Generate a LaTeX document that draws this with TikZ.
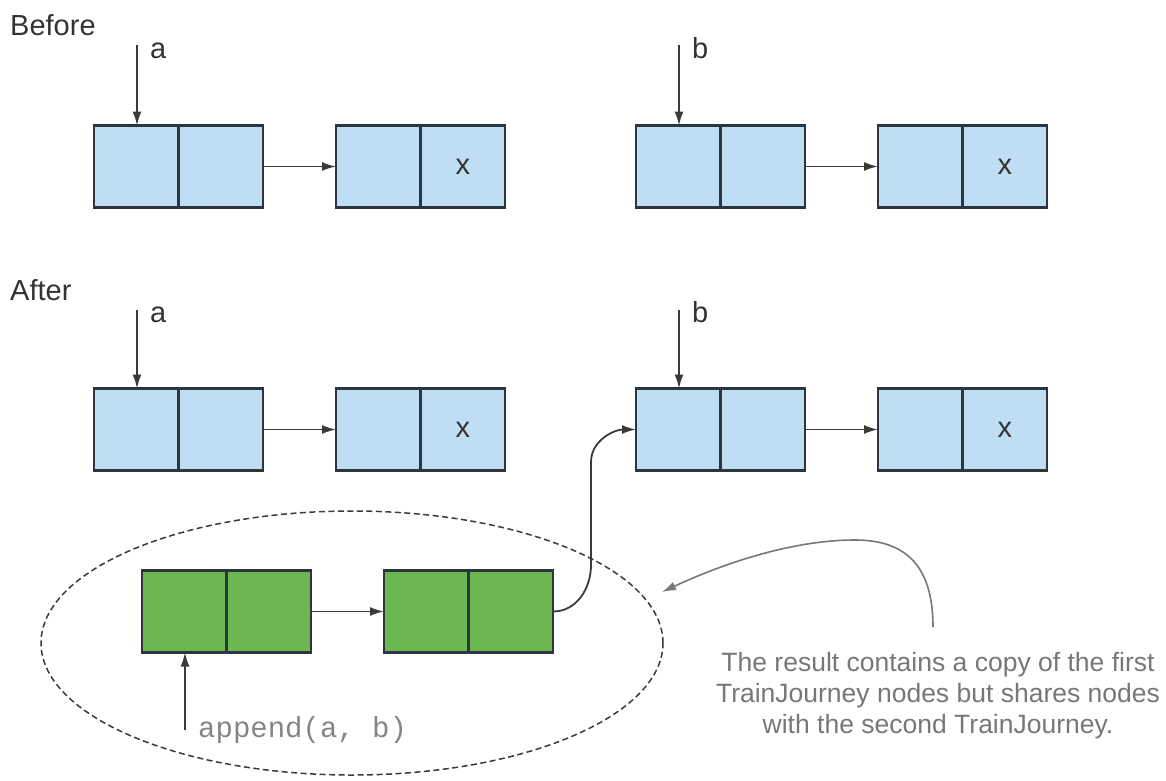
\documentclass[tikz,border=0pt]{standalone}
\usepackage{fontspec}
\setmainfont{Liberation Sans}
\setmonofont{Liberation Mono}
\usetikzlibrary{arrows.meta,shapes.geometric}
\definecolor{cellblue}{HTML}{BFDDF3}
\definecolor{cellgreen}{HTML}{6CB750}
\definecolor{edge}{HTML}{2C3640}
\definecolor{arr}{HTML}{3A3A3A}
\definecolor{note}{HTML}{777777}
\tikzset{
  cell/.style={draw=edge, line width=2.2pt, minimum width=84.5pt, minimum height=82pt, inner sep=0pt, outer sep=0pt},
  bluecell/.style={cell, fill=cellblue},
  greencell/.style={cell, fill=cellgreen},
  link/.style={draw=arr, line width=1.8pt, -{Latex[length=14pt,width=9pt]}},
  lbl/.style={inner sep=0pt, text=black!80, font=\fontsize{29}{34}\selectfont},
}
\begin{document}
\begin{tikzpicture}[x=1pt,y=1pt]
\useasboundingbox (0,0) rectangle (1166,-780);
% headings
\node[lbl, anchor=base west] (before) at (10,-35) {Before};
\node[lbl, anchor=base west] (after) at (10,-300) {After};
% Row 1
\node[bluecell] (r1a1) at (136.25,-166.5) {};
\node[bluecell, anchor=west] (r1a2) at (r1a1.east) {};
\node[bluecell] (r1b1) at (378.25,-166.5) {};
\node[bluecell, anchor=west, lbl, minimum width=84.5pt, minimum height=82pt, draw=edge, line width=2.2pt] (r1b2) at (r1b1.east) {x};
\node[bluecell] (r1c1) at (678.25,-166.5) {};
\node[bluecell, anchor=west] (r1c2) at (r1c1.east) {};
\node[bluecell] (r1d1) at (920.25,-166.5) {};
\node[bluecell, anchor=west, lbl, minimum width=84.5pt, minimum height=82pt, draw=edge, line width=2.2pt] (r1d2) at (r1d1.east) {x};
\draw[link] (r1a2.east) -- (r1b1.west);
\draw[link] (r1c2.east) -- (r1d1.west);
\coordinate (pa1) at (137,-45);
\coordinate (pb1) at (679,-45);
\draw[link] (pa1) -- (pa1 |- r1a1.north);
\draw[link] (pb1) -- (pb1 |- r1c1.north);
\node[lbl, anchor=base west] (la1) at (150,-58) {a};
\node[lbl, anchor=base west] (lb1) at (692,-58) {b};
% Row 2
\node[bluecell] (r2a1) at (136.25,-429.5) {};
\node[bluecell, anchor=west] (r2a2) at (r2a1.east) {};
\node[bluecell] (r2b1) at (378.25,-429.5) {};
\node[bluecell, anchor=west, lbl, minimum width=84.5pt, minimum height=82pt, draw=edge, line width=2.2pt] (r2b2) at (r2b1.east) {x};
\node[bluecell] (r2c1) at (678.25,-429.5) {};
\node[bluecell, anchor=west] (r2c2) at (r2c1.east) {};
\node[bluecell] (r2d1) at (920.25,-429.5) {};
\node[bluecell, anchor=west, lbl, minimum width=84.5pt, minimum height=82pt, draw=edge, line width=2.2pt] (r2d2) at (r2d1.east) {x};
\draw[link] (r2a2.east) -- (r2b1.west);
\draw[link] (r2c2.east) -- (r2d1.west);
\coordinate (pa2) at (137,-310);
\coordinate (pb2) at (679,-310);
\draw[link] (pa2) -- (pa2 |- r2a1.north);
\draw[link] (pb2) -- (pb2 |- r2c1.north);
\node[lbl, anchor=base west] (la2) at (150,-322) {a};
\node[lbl, anchor=base west] (lb2) at (692,-322) {b};
% dashed ellipse
\node[draw=arr, dash pattern=on 6pt off 3.5pt, line width=1.5pt, ellipse, minimum width=622pt, minimum height=264pt, inner sep=0pt] (result) at (352,-643) {};
% green row
\node[greencell] (g1) at (184.25,-611.5) {};
\node[greencell, anchor=west] (g2) at (g1.east) {};
\node[greencell] (g3) at (426.25,-611.5) {};
\node[greencell, anchor=west] (g4) at (g3.east) {};
\draw[link] (g2.east) -- (g3.west);
\draw[link] (g4.east) to[out=0,in=-90] (591,-565) -- (591,-462) to[out=90,in=180] (r2c1.west);
\coordinate (pap) at (185,-730);
\draw[link] (pap) -- (pap |- g1.south);
\node[inner sep=0pt, anchor=base west, text=note!90, font=\ttfamily\fontsize{29}{34}\selectfont] (app) at (198,-737) {append(a, b)};
% annotation
\node[inner sep=0pt, anchor=base, align=center, text=note, font=\fontsize{26.5}{31}\selectfont] (ann) at (938,-733) {The result contains a copy of the first\\TrainJourney nodes but shares nodes\\with the second TrainJourney.};
\coordinate (annstart) at (933,-627);
\coordinate (anntip) at (662,-592);
\draw[draw=note, line width=1.6pt, -{Latex[length=14pt,width=9pt]}] (annstart) .. controls (933,-565) and (905,-540) .. (855,-540) .. controls (790,-540) and (720,-565) .. (anntip);
\end{tikzpicture}
\end{document}
